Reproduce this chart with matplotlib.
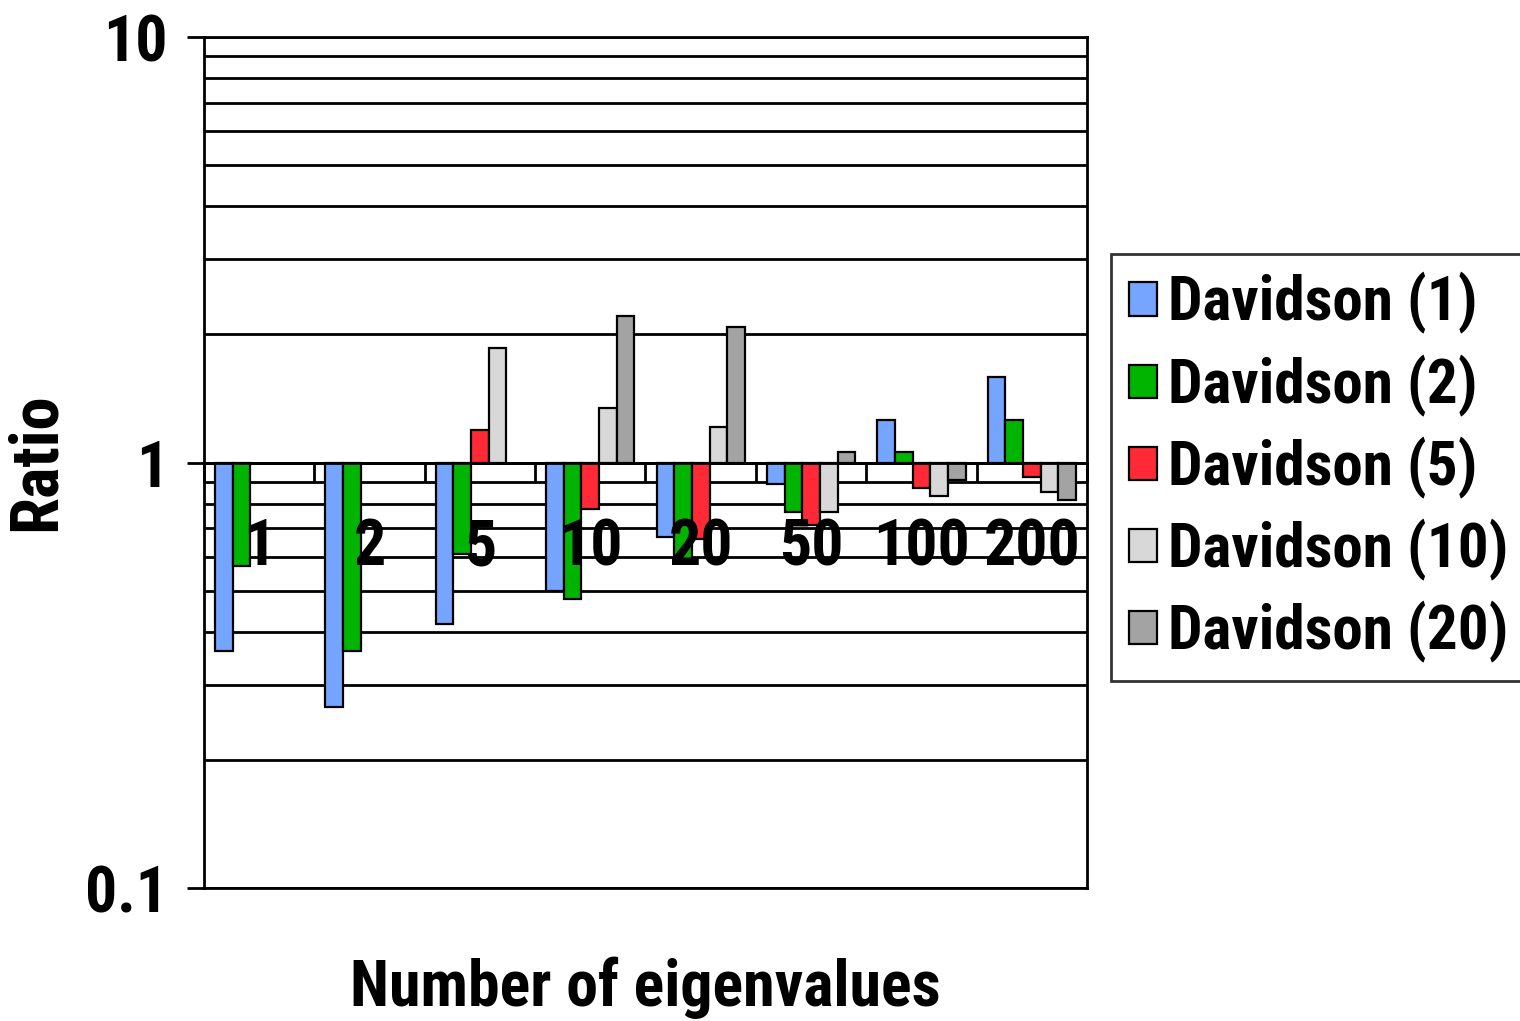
import numpy as np
import matplotlib.pyplot as plt
from matplotlib.ticker import LogLocator, NullFormatter, FixedLocator
import matplotlib.transforms as mtransforms

plt.rcParams.update({
    "font.family": ["Roboto Condensed", "Liberation Sans", "DejaVu Sans"],
    "font.weight": "bold",
})

# ---------------- data ----------------
categories = ["1", "2", "5", "10", "20", "50", "100", "200"]
series_names = ["Davidson (1)", "Davidson (2)", "Davidson (5)",
                "Davidson (10)", "Davidson (20)"]
nan = np.nan
dav1 = [0.36, 0.267, 0.417, 0.50, 0.67, 0.89, 1.26, 1.59]
dav2 = [0.57, 0.36, 0.61, 0.478, 0.59, 0.764, 1.06, 1.26]
dav5 = [nan, nan, 1.19, 0.776, 0.66, 0.713, 0.87, 0.926]
dav10 = [nan, nan, 1.86, 1.34, 1.21, 0.764, 0.834, 0.854]
dav20 = [nan, nan, nan, 2.21, 2.085, 1.057, 0.91, 0.816]
series = [dav1, dav2, dav5, dav10, dav20]

colors = ["#75A5FF", "#00B400", "#FF2A36", "#D8D8D8", "#A3A3A3"]

# ---------------- figure ----------------
fig = plt.figure(figsize=(15.2, 10.21), dpi=100)
ax = fig.add_axes([204 / 1520, 1 - 888 / 1021, 883 / 1520, 851 / 1021])

ax.set_yscale("log")
ax.set_ylim(0.1, 10)
ax.set_xlim(-0.5, len(categories) - 0.5)

x = np.arange(len(categories))
bar_w = 0.16
for k, (vals, col, name) in enumerate(zip(series, colors, series_names)):
    vals = np.array(vals, dtype=float)
    ok = ~np.isnan(vals)
    xpos = x + (k - 2) * bar_w
    ax.bar(xpos[ok], vals[ok] - 1, bottom=1, width=bar_w, color=col,
           edgecolor="black", linewidth=1.6, label=name, zorder=3)

# gridlines at every minor/major decade step
ax.yaxis.set_minor_locator(LogLocator(base=10, subs=np.arange(2, 10), numticks=12))
ax.yaxis.set_minor_formatter(NullFormatter())
ax.set_yticks([0.1, 1, 10])
ax.set_yticklabels(["0.1", "1", "10"], fontsize=46, fontweight="bold")
ax.tick_params(axis="y", which="major", length=12, width=2, direction="out", pad=14)
ax.tick_params(axis="y", which="minor", length=0)
ax.grid(axis="y", which="both", color="black", linewidth=2.0, zorder=1)
ax.set_axisbelow(True)

# category axis crossing at 1
ax.spines["bottom"].set_position(("data", 1))
ax.spines["bottom"].set_zorder(4)
for s in ["top", "left", "right", "bottom"]:
    ax.spines[s].set_linewidth(2.0)
ax.xaxis.set_major_locator(FixedLocator(np.arange(len(categories) + 1) - 0.5))
ax.tick_params(axis="x", which="major", length=14, width=2, direction="out",
               labelbottom=False)
ax.axhline(0.1, color="black", linewidth=2.0, clip_on=False, zorder=4)

trans = mtransforms.blended_transform_factory(ax.transData, ax.transAxes)
for i, lab in enumerate(categories):
    ax.text(i, 0.40, lab, transform=trans, ha="center", va="center",
            fontsize=46, fontweight="bold", zorder=5)

fig.text(37 / 1520, 1 - 462 / 1021, "Ratio", rotation=90, ha="center",
         va="center", fontsize=48, fontweight="bold")
fig.text(645 / 1520, 1 - 988 / 1021, "Number of eigenvalues", ha="center",
         va="center", fontsize=46, fontweight="bold")

leg = ax.legend(loc="upper left", bbox_to_anchor=(1111 / 1520, 1 - 254 / 1021),
                bbox_transform=fig.transFigure, fontsize=44, frameon=True,
                fancybox=False, edgecolor="black", handlelength=0.46,
                handleheight=0.46, handletextpad=0.18, labelspacing=0.33,
                borderpad=0.3, borderaxespad=0)
leg.get_frame().set_linewidth(2.0)
for t in leg.get_texts():
    t.set_fontweight("bold")

fig.savefig("out.png", dpi=100)
